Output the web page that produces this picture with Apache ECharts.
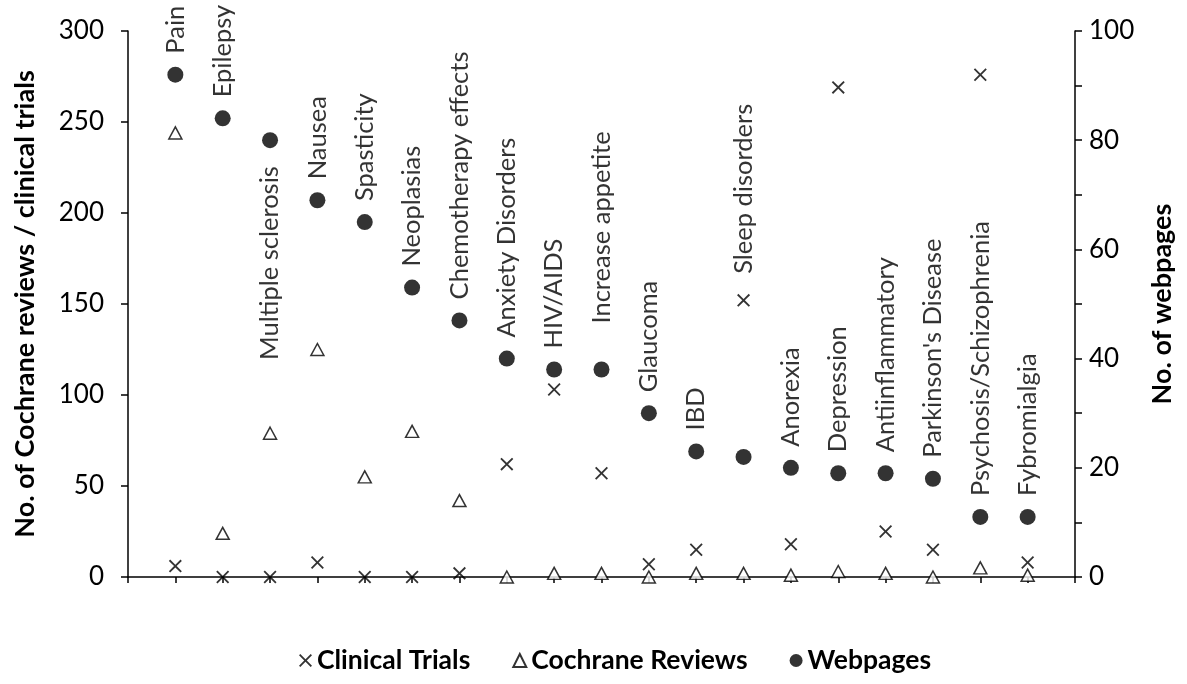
<!DOCTYPE html>
<html>
<head>
<meta charset="utf-8">
<script src="https://cdn.jsdelivr.net/npm/echarts@6/dist/echarts.min.js"></script>
<style>
html,body{margin:0;padding:0;background:#fff;}
#chart{width:1187px;height:684px;}
</style>
</head>
<body>
<div id="chart"></div>
<script>
const categories = ['Pain','Epilepsy','Multiple sclerosis','Nausea','Spasticity','Neoplasias','Chemotherapy effects','Anxiety Disorders','HIV/AIDS','Increase appetite','Glaucoma','IBD','Sleep disorders','Anorexia','Depression','Antiinflammatory',"Parkinson's Disease",'Psychosis/Schizophrenia','Fybromialgia'];
const clinicalTrials = [6,0,0,8,0,0,2,62,103,57,7,15,152,18,269,25,15,276,8];
const cochraneReviews = [244,24,79,125,55,80,42,0,2,2,0,2,2,1,3,2,0,5,1];
const webpages = [92,84,80,69,65,53,47,40,38,38,30,23,22,20,19,19,18,11,11];
const leftTicks = [0,50,100,150,200,250,300];
const rightTicks = [0,20,40,60,80,100];

const FONT = 'Lato';
const labelSize = 25.5;
const crossPath = 'path://M0,1L1,0L5,4L9,0L10,1L6,5L10,9L9,10L5,6L1,10L0,9L4,5Z';

// label placement overrides (style only)
const labelBelow = {'Multiple sclerosis': 18};
const labelOnTrials = {'Sleep disorders': 20};
const labelDistance = {'Increase appetite': 38};

const baseLabel = {
  show: true, position: 'top', rotate: 90, align: 'left', verticalAlign: 'middle',
  distance: 13, color: '#000', fontFamily: FONT, fontSize: labelSize
};

const webData = webpages.map((v, i) => {
  const name = categories[i];
  const item = {value: [i + 1, v], name: name};
  if (labelOnTrials[name] !== undefined) {
    item.label = {show: false};
  } else if (labelBelow[name] !== undefined) {
    item.label = Object.assign({}, baseLabel, {position: 'bottom', align: 'right', distance: labelBelow[name], formatter: name});
  } else {
    item.label = Object.assign({}, baseLabel, {distance: labelDistance[name] !== undefined ? labelDistance[name] : 13, formatter: name});
  }
  return item;
});

const trialData = clinicalTrials.map((v, i) => {
  const name = categories[i];
  const item = {value: [i + 1, v], name: name};
  if (labelOnTrials[name] !== undefined) {
    item.label = Object.assign({}, baseLabel, {distance: labelOnTrials[name], formatter: name});
  }
  return item;
});

const reviewData = cochraneReviews.map((v, i) => ({value: [i + 1, v], name: categories[i]}));

const axisLineStyle = {color: '#000', width: 1.5};

const chart = echarts.init(document.getElementById('chart'), null, {renderer: 'canvas'});
chart.setOption({
  animation: false,
  backgroundColor: '#fff',
  textStyle: {fontFamily: FONT},
  grid: {left: 128, right: 112, top: 31, bottom: 107},
  legend: {
    bottom: 5,
    left: 294,
    itemWidth: 13,
    itemHeight: 13,
    itemGap: 42,
    textStyle: {fontFamily: FONT, fontWeight: 'bold', fontSize: 26.5, color: '#000'},
    data: [
      {name: 'Clinical Trials', icon: crossPath},
      {name: 'Cochrane Reviews', icon: 'triangle'},
      {name: 'Webpages', icon: 'circle'}
    ]
  },
  xAxis: {
    type: 'value', min: 0, max: 20, interval: 1,
    axisLine: {show: true, onZero: false, lineStyle: axisLineStyle},
    axisTick: {show: true, length: 6, lineStyle: axisLineStyle},
    axisLabel: {show: false},
    splitLine: {show: false}
  },
  yAxis: [
    {
      type: 'value', min: 0, max: 300, interval: 50, position: 'left',
      axisLine: {show: true, onZero: false, lineStyle: axisLineStyle},
      axisTick: {show: true, length: 7, lineStyle: axisLineStyle},
      axisLabel: {color: '#000', fontFamily: FONT, fontSize: 26, margin: 24,
        formatter: v => leftTicks.indexOf(v) >= 0 ? String(v) : ''},
      splitLine: {show: false},
      name: 'No. of Cochrane reviews / clinical trials',
      nameLocation: 'middle', nameGap: 89,
      nameTextStyle: {color: '#000', fontFamily: FONT, fontWeight: 'bold', fontSize: 27}
    },
    {
      type: 'value', min: 0, max: 100, interval: 10, position: 'right',
      axisLine: {show: true, onZero: false, lineStyle: axisLineStyle},
      axisTick: {show: true, length: 7, lineStyle: axisLineStyle},
      axisLabel: {color: '#000', fontFamily: FONT, fontSize: 26, margin: 14,
        formatter: v => rightTicks.indexOf(v) >= 0 ? String(v) : ''},
      splitLine: {show: false},
      name: 'No. of webpages',
      nameLocation: 'middle', nameGap: 74,
      nameTextStyle: {color: '#000', fontFamily: FONT, fontWeight: 'bold', fontSize: 27}
    }
  ],
  series: [
    {
      name: 'Clinical Trials', type: 'scatter', yAxisIndex: 0,
      symbol: crossPath, symbolSize: 13,
      itemStyle: {color: '#000'},
      data: trialData, z: 3
    },
    {
      name: 'Cochrane Reviews', type: 'scatter', yAxisIndex: 0,
      symbol: 'triangle', symbolSize: [13, 12],
      itemStyle: {color: '#fff', borderColor: '#000', borderWidth: 1.5},
      data: reviewData, z: 2
    },
    {
      name: 'Webpages', type: 'scatter', yAxisIndex: 1,
      symbol: 'circle', symbolSize: 16,
      itemStyle: {color: '#000'},
      data: webData, z: 4
    }
  ]
});
</script>
</body>
</html>
